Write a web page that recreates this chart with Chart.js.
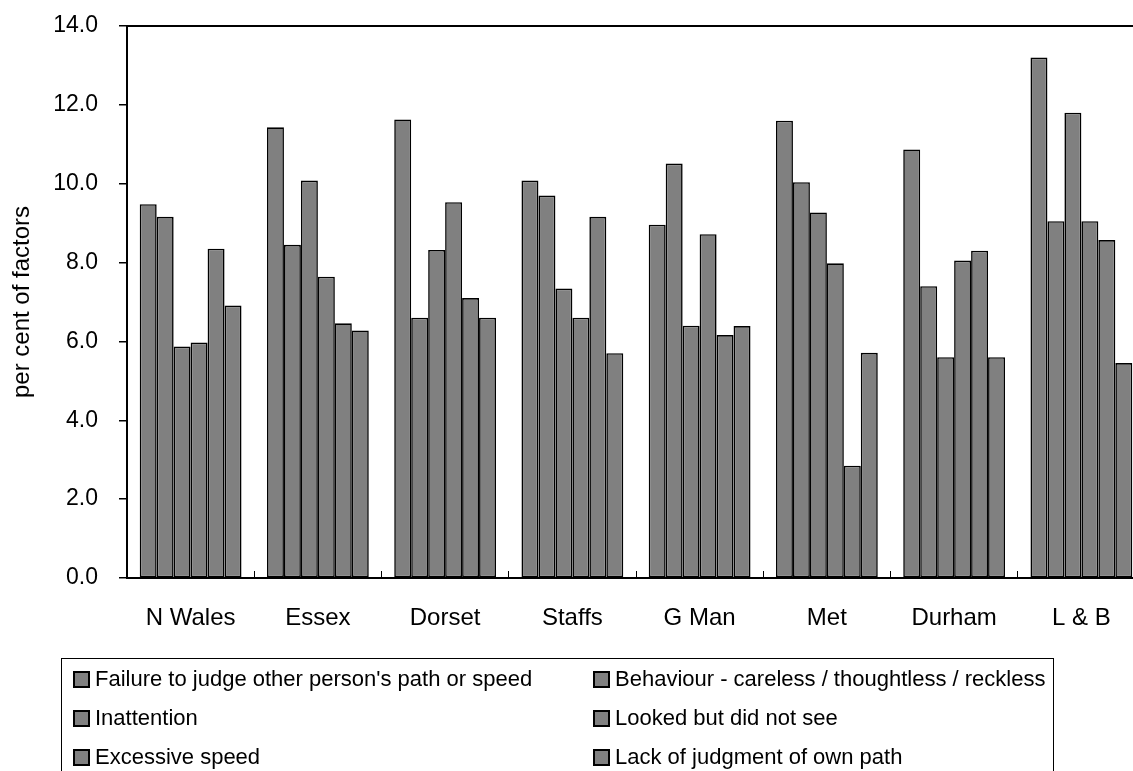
<!DOCTYPE html>
<html>
<head>
<meta charset="utf-8">
<script src="https://cdn.jsdelivr.net/npm/chart.js@4"></script>
<style>
    html, body { margin: 0; padding: 0; overflow: hidden; background: #fff; }
    #wrap { position: relative; width: 1145px; height: 800px; }
</style>
</head>
<body>
<div id="wrap"><canvas id="factors-chart"></canvas></div>
<script>
const categories = ['N Wales', 'Essex', 'Dorset', 'Staffs', 'G Man', 'Met', 'Durham', 'L & B'];

const failureToJudge = [9.48, 11.43, 11.63, 10.08, 8.96, 11.60, 10.87, 13.20];
const behaviour      = [9.16, 8.45, 6.60, 9.70, 10.51, 10.04, 7.40, 9.05];
const inattention    = [5.87, 10.08, 8.32, 7.34, 6.40, 9.27, 5.60, 11.80];
const lookedNotSee   = [5.97, 7.64, 9.53, 6.60, 8.72, 7.98, 8.05, 9.05];
const excessiveSpeed = [8.35, 6.46, 7.10, 9.16, 6.16, 2.85, 8.30, 8.57];
const lackOwnPath    = [6.91, 6.28, 6.60, 5.70, 6.39, 5.71, 5.60, 5.45];

const seriesLabels = [
    "Failure to judge other person's path or speed",
    'Behaviour - careless / thoughtless / reckless',
    'Inattention',
    'Looked but did not see',
    'Excessive speed',
    'Lack of judgment of own path'
];
const seriesValues = [failureToJudge, behaviour, inattention, lookedNotSee, excessiveSpeed, lackOwnPath];

const FONT = '"Liberation Sans", Arial, sans-serif';
const BAR_FILL = '#808080';

/**
 * Top frame line and the boxed two-column legend under the plot
 */
const frameAndLegend = {
    id: 'frameAndLegend',
    afterDraw(chart) {
        const ctx = chart.ctx;
        const area = chart.chartArea;
        ctx.save();

        // top border of plot area
        ctx.strokeStyle = '#000';
        ctx.lineWidth = 2;
        ctx.beginPath();
        ctx.moveTo(area.left, area.top);
        ctx.lineTo(area.right, area.top);
        ctx.stroke();

        // legend box
        ctx.lineWidth = 1;
        ctx.strokeRect(61.5, 658.5, 992, 200);

        const colX = [73, 593];
        const rowY = [679, 718, 757];
        ctx.font = '22px ' + FONT;
        ctx.textBaseline = 'middle';
        ctx.textAlign = 'left';
        chart.data.datasets.forEach((ds, i) => {
            const x = colX[i % 2];
            const y = rowY[Math.floor(i / 2)];
            ctx.fillStyle = ds.backgroundColor;
            ctx.fillRect(x, y - 8, 17, 17);
            ctx.strokeStyle = '#000';
            ctx.lineWidth = 2;
            ctx.strokeRect(x + 1, y - 7, 15, 15);
            ctx.fillStyle = '#000';
            ctx.fillText(ds.label, x + 22, y + 1);
        });
        ctx.restore();
    }
};

const ctx = document.getElementById('factors-chart').getContext('2d');
new Chart(ctx, {
    type: 'bar',
    data: {
        labels: categories,
        datasets: seriesValues.map((vals, i) => ({
            label: seriesLabels[i],
            data: vals,
            backgroundColor: BAR_FILL,
            borderColor: '#000',
            borderWidth: 1.6,
            borderSkipped: false,
            categoryPercentage: 0.8,
            barPercentage: 1.0
        }))
    },
    options: {
        responsive: true,
        maintainAspectRatio: false,
        animation: false,
        devicePixelRatio: 1,
        layout: { padding: { top: 26, right: 0, bottom: 0, left: 0 } },
        plugins: {
            legend: { display: false },
            tooltip: { enabled: false }
        },
        scales: {
            x: {
                grid: {
                    display: true,
                    drawOnChartArea: false,
                    drawTicks: true,
                    tickLength: -7,
                    color: '#000',
                    lineWidth: 1
                },
                border: { display: true, color: '#000', width: 2 },
                ticks: {
                    color: '#000',
                    font: { family: FONT, size: 24 },
                    padding: 33,
                    maxRotation: 0
                },
                afterFit(scale) { scale.height = 222; }
            },
            y: {
                min: 0,
                max: 14,
                grid: {
                    display: true,
                    drawOnChartArea: false,
                    drawTicks: true,
                    tickLength: 8,
                    color: '#000',
                    lineWidth: 1.5
                },
                border: { display: true, color: '#000', width: 2 },
                ticks: {
                    stepSize: 2,
                    color: '#000',
                    padding: 21,
                    font: { family: FONT, size: 23 },
                    callback: v => v.toFixed(1)
                },
                title: {
                    display: true,
                    text: 'per cent of factors',
                    color: '#000',
                    font: { family: FONT, size: 24 },
                    padding: { top: 8, bottom: 0 }
                },
                afterFit(scale) {
                    scale.width = 127;
                    // tick padding would otherwise push the plot top down
                    scale.paddingTop = 0;
                    scale.paddingBottom = 0;
                }
            }
        }
    },
    plugins: [frameAndLegend]
});
</script>
</body>
</html>
